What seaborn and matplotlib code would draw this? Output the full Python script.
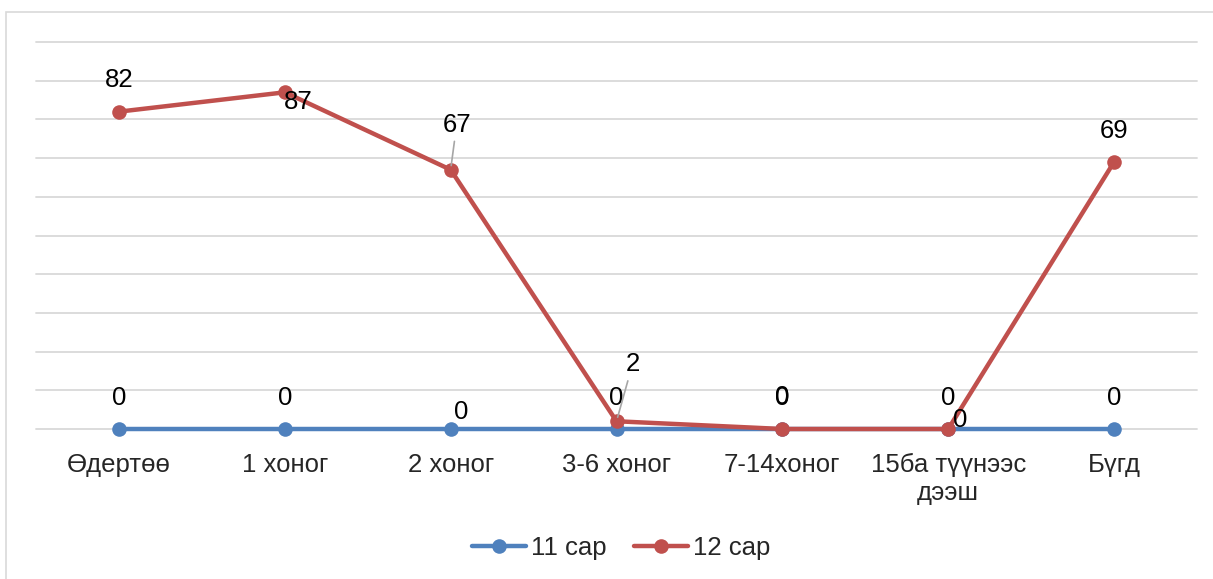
import pandas as pd
import seaborn as sns
import matplotlib.pyplot as plt
from matplotlib.patches import Rectangle

# Data
categories = ["Өдертөө", "1 хоног", "2 хоног", "3-6 хоног", "7-14хоног", "15ба түүнээс\nдээш", "Бүгд"]
nov_values = [0, 0, 0, 0, 0, 0, 0]
dec_values = [82, 87, 67, 2, 0, 0, 69]
series_names = ["11 сар", "12 сар"]

sns.set_theme(style="white")
plt.rcParams["font.family"] = ["Liberation Sans", "DejaVu Sans"]

df = pd.DataFrame({
    "cat": list(range(len(categories))) * 2,
    "value": nov_values + dec_values,
    "series": [series_names[0]] * len(categories) + [series_names[1]] * len(categories),
})

blue = "#4F81BD"
red = "#C0504D"
fs = 18.5

fig = plt.figure(figsize=(12.13, 5.79), dpi=100)
ax = fig.add_axes([36 / 1213, 1 - 429 / 579, (1197 - 36) / 1213, (429 - 42) / 579])

# chart frame
fig.patches.append(Rectangle((6 / 1213, -0.05), 1.1, 1 - 12 / 579 + 0.05, transform=fig.transFigure,
                             fill=False, edgecolor="#D9D9D9", linewidth=1.2, zorder=0))

sns.lineplot(data=df, x="cat", y="value", hue="series", palette=[blue, red],
             marker="o", markersize=10.5, markeredgewidth=0, linewidth=3.2,
             ax=ax, legend=False)
for ln in ax.lines:
    ln.set_clip_on(False)
    ln.set_solid_capstyle("round")

ax.set_xlim(-0.5, len(categories) - 0.5)
ax.set_ylim(0, 100)
ax.set_yticks(range(0, 101, 10))
ax.yaxis.grid(True, color="#D9D9D9", linewidth=1.3)
for gl in ax.yaxis.get_gridlines():
    gl.set_clip_on(False)
ax.set_axisbelow(True)
ax.set_yticklabels([])
ax.tick_params(axis="y", length=0)
ax.set_xticks(range(len(categories)))
ax.set_xticklabels(categories, fontsize=fs, linespacing=1.25, va="top")
ax.tick_params(axis="x", length=0, pad=17)
ax.set_xlabel("")
ax.set_ylabel("")
for s in ax.spines.values():
    s.set_visible(False)

# data labels (offsets in pixels)
nov_offsets = [(0, 31), (0, 31), (11, 17), (0, 31), (0, 31), (0, 31), (0, 31)]
dec_offsets = [(0, 32), (13, -10), (6, 45), (16, 57), (0, 32), (12, 9), (0, 31)]
for i, v in enumerate(nov_values):
    ax.annotate(str(v), (i, v), xytext=nov_offsets[i], textcoords="offset pixels",
                ha="center", va="center", fontsize=fs, color="black", annotation_clip=False)
for i, v in enumerate(dec_values):
    leader = dict(arrowstyle="-", color="#A6A6A6", lw=1.2, shrinkA=1, shrinkB=3) if i in (2, 3) else None
    ax.annotate(str(v), (i, v), xytext=dec_offsets[i], textcoords="offset pixels",
                ha="center", va="center", fontsize=fs, color="black", annotation_clip=False,
                arrowprops=leader)

handles = ax.lines[:2]
fig.legend(handles, series_names, loc="center", bbox_to_anchor=(0.512, 1 - 548 / 579),
           ncol=2, frameon=False, fontsize=fs, handlelength=2.1, handletextpad=0.2,
           columnspacing=1.05)

fig.savefig("out.png", dpi=100)
